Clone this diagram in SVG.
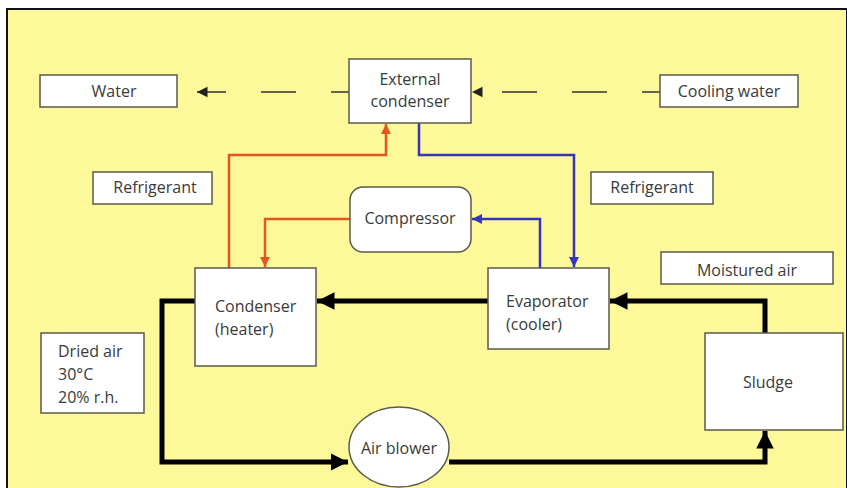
<svg xmlns="http://www.w3.org/2000/svg" width="847" height="488" viewBox="0 0 847 488">
<style>
.box{fill:#fff;stroke:#5a5a4a;stroke-width:1.5}
.t{font-family:"Open Sans","Liberation Sans",sans-serif;font-size:16px;fill:#3a3a3a}
.c{text-anchor:middle}
.red{fill:none;stroke:#e2561f;stroke-width:2.5}
.blue{fill:none;stroke:#3434bd;stroke-width:2.5}
.blk{fill:none;stroke:#000;stroke-width:5}
.dash{fill:none;stroke:#333;stroke-width:1.5;stroke-dasharray:35 35}
</style>
<defs>
<marker id="ar" viewBox="0 0 10 10" refX="10" refY="5" markerWidth="4" markerHeight="4" orient="auto" markerUnits="strokeWidth"><path d="M0,0L10,5L0,10z" fill="#e2561f"/></marker>
<marker id="ab" viewBox="0 0 10 10" refX="10" refY="5" markerWidth="4" markerHeight="4" orient="auto" markerUnits="strokeWidth"><path d="M0,0L10,5L0,10z" fill="#3434bd"/></marker>
<marker id="ak" viewBox="0 0 10 10" refX="10" refY="5" markerWidth="3.5" markerHeight="3.5" orient="auto" markerUnits="strokeWidth"><path d="M0,0L10,5L0,10z" fill="#000"/></marker>
<marker id="ad" viewBox="0 0 10 10" refX="10" refY="5" markerWidth="7" markerHeight="7" orient="auto" markerUnits="strokeWidth"><path d="M0,0L10,5L0,10z" fill="#222"/></marker>
</defs>
<rect width="847" height="488" fill="#fff"/>
<rect x="7" y="9" width="840" height="485" fill="#fdf99a" stroke="#111" stroke-width="2"/>

<g id="connectors">
<path class="dash" d="M349,92 H197" stroke-dashoffset="17" marker-end="url(#ad)"/>
<path class="dash" d="M660,92 H472" stroke-dashoffset="17" marker-end="url(#ad)"/>
<path class="red" d="M229,268 V155 H386 V124" marker-end="url(#ar)"/>
<path class="red" d="M350,219 H265 V267" marker-end="url(#ar)"/>
<path class="blue" d="M419,123 V155 H574 V267" marker-end="url(#ab)"/>
<path class="blue" d="M540,268 V219 H472" marker-end="url(#ab)"/>
<path class="blk" d="M488,301 H317" marker-end="url(#ak)"/>
<path class="blk" d="M765,333 V301 H610" marker-end="url(#ak)"/>
<path class="blk" d="M195,301 H162 V462 H348" marker-end="url(#ak)"/>
<path class="blk" d="M449,462 H765 V431" marker-end="url(#ak)"/>
</g>

<g id="water"><rect class="box" x="40" y="75" width="137" height="32"/><text class="t c" x="114" y="97">Water</text></g>
<g id="external-condenser"><rect class="box" x="349" y="59" width="122" height="64"/><text class="t c" x="410" y="85">External</text><text class="t c" x="410" y="107">condenser</text></g>
<g id="cooling-water"><rect class="box" x="660" y="75" width="138" height="32"/><text class="t c" x="729" y="97">Cooling water</text></g>
<g id="refrigerant-left"><rect class="box" x="93" y="172" width="119" height="32"/><text class="t c" x="155" y="193">Refrigerant</text></g>
<g id="refrigerant-right"><rect class="box" x="591" y="172" width="122" height="32"/><text class="t c" x="652" y="193">Refrigerant</text></g>
<g id="compressor"><rect class="box" x="350" y="187" width="121" height="65" rx="13"/><text class="t c" x="410" y="224">Compressor</text></g>
<g id="condenser"><rect class="box" x="195" y="268" width="121" height="98"/><text class="t" x="215" y="312">Condenser</text><text class="t" x="215" y="335">(heater)</text></g>
<g id="evaporator"><rect class="box" x="488" y="268" width="121" height="81"/><text class="t" x="506" y="307">Evaporator</text><text class="t" x="506" y="330">(cooler)</text></g>
<g id="moistured-air"><rect class="box" x="661" y="252" width="172" height="32"/><text class="t c" x="747" y="276">Moistured air</text></g>
<g id="sludge"><rect class="box" x="705" y="333" width="138" height="97"/><text class="t c" x="768" y="388">Sludge</text></g>
<g id="dried-air"><rect class="box" x="41" y="333" width="103" height="80"/><text class="t" x="58" y="357">Dried air</text><text class="t" x="58" y="380">30°C</text><text class="t" x="58" y="403">20% r.h.</text></g>
<g id="air-blower"><ellipse class="box" cx="399" cy="447" rx="50" ry="40"/><text class="t c" x="399" y="454">Air blower</text></g>
</svg>
